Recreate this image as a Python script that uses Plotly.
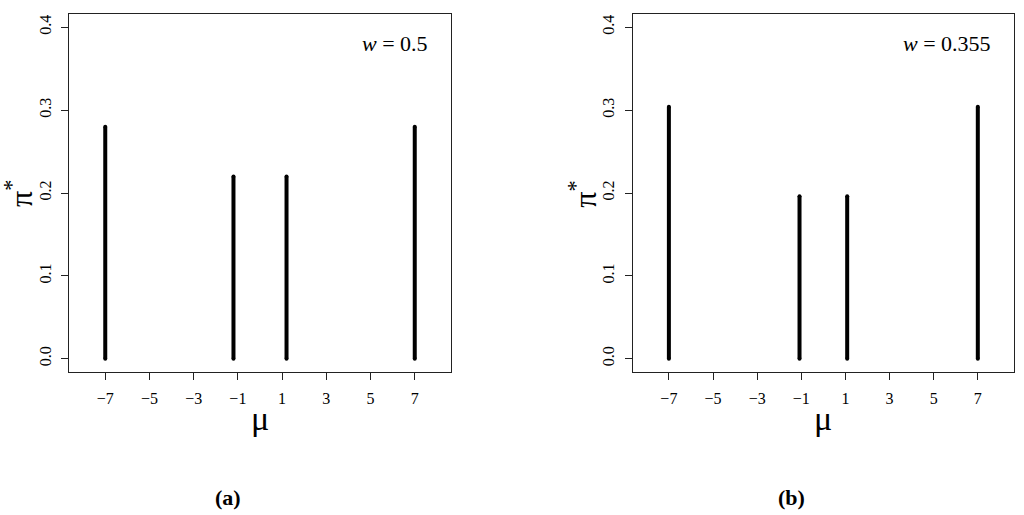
import plotly.graph_objects as go

# Data
mu_a = [-7, -1.2, 1.2, 7]
pi_a = [0.28, 0.22, 0.22, 0.28]
mu_b = [-7, -1.08, 1.08, 7]
pi_b = [0.304, 0.196, 0.196, 0.304]
x_ticks = [-7, -5, -3, -1, 1, 3, 5, 7]
x_tick_labels = ["\u22127", "\u22125", "\u22123", "\u22121", "1", "3", "5", "7"]
y_ticks = [0.0, 0.1, 0.2, 0.3, 0.4]
y_tick_labels = ["0.0", "0.1", "0.2", "0.3", "0.4"]
w_labels = ["<i>w</i> = 0.5", "<i>w</i> = 0.355"]
panel_labels = ["<b>(a)</b>", "<b>(b)</b>"]

W, H = 1024, 515
SERIF = "Liberation Serif, Times New Roman, serif"

def px(x):
    return x / W

def py(y):
    return 1 - y / H

fig = go.Figure()

def add_spikes(mu, p, xa, ya):
    xs, ys = [], []
    for m, v in zip(mu, p):
        xs += [m, m, None]
        ys += [0, v, None]
    fig.add_trace(go.Scatter(
        x=xs, y=ys, mode="lines+markers", xaxis=xa, yaxis=ya,
        line=dict(color="black", width=4),
        marker=dict(size=4, color="black", line=dict(width=0)),
        showlegend=False, hoverinfo="skip"))

add_spikes(mu_a, pi_a, "x", "y")
add_spikes(mu_b, pi_b, "x2", "y2")

panels = [(69, 451), (632.7, 1014)]
top_px, bot_px = 14, 372
ydom = [py(bot_px), py(top_px)]

axis_common = dict(
    showline=True, mirror=True, linecolor="#222", linewidth=1,
    ticks="outside", ticklen=7, tickwidth=1, tickcolor="#222",
    showgrid=False, zeroline=False, automargin=False,
    tickfont=dict(family=SERIF, size=16, color="black"),
)

layout = dict(
    width=W, height=H,
    margin=dict(l=0, r=0, t=0, b=0),
    paper_bgcolor="white", plot_bgcolor="white",
    showlegend=False,
)
for i, (x0, x1) in enumerate(panels):
    sfx = "" if i == 0 else str(i + 1)
    layout["xaxis" + sfx] = dict(
        axis_common, domain=[px(x0), px(x1)], range=[-8.64, 8.64],
        tickmode="array", tickvals=x_ticks, ticktext=x_tick_labels,
        anchor="y" + sfx, ticklabelstandoff=5)
    layout["yaxis" + sfx] = dict(
        axis_common, domain=ydom, range=[-0.016, 0.416],
        tickmode="array", tickvals=y_ticks, ticktext=y_tick_labels,
        tickangle=-90, anchor="x" + sfx, ticklabelstandoff=4)

fig.update_layout(**layout)

annotations = []
for i, (x0, x1) in enumerate(panels):
    cx = (x0 + x1) / 2
    annotations.append(dict(x=px(cx), y=py(418), xref="paper", yref="paper",
                            text="\u03bc", showarrow=False, xanchor="center", yanchor="middle",
                            font=dict(family=SERIF, size=34, color="black")))
    annotations.append(dict(x=px(x0 - 50), y=py(194), xref="paper", yref="paper",
                            text="\u03c0<sup>*</sup>", showarrow=False, textangle=-90,
                            xanchor="center", yanchor="middle",
                            font=dict(family=SERIF, size=32, color="black")))
    annotations.append(dict(x=px(x1 - 21), y=py(43), xref="paper", yref="paper",
                            text=w_labels[i], showarrow=False, xanchor="right", yanchor="middle",
                            font=dict(family=SERIF, size=22, color="black")))
    annotations.append(dict(x=px(cx - 32), y=py(497), xref="paper", yref="paper",
                            text=panel_labels[i], showarrow=False, xanchor="center", yanchor="middle",
                            font=dict(family=SERIF, size=22, color="black")))
fig.update_layout(annotations=annotations)

fig.write_html("out.html",
               config={"displayModeBar": False},
               post_script="document.body.style.margin='0';document.body.style.padding='0';")
